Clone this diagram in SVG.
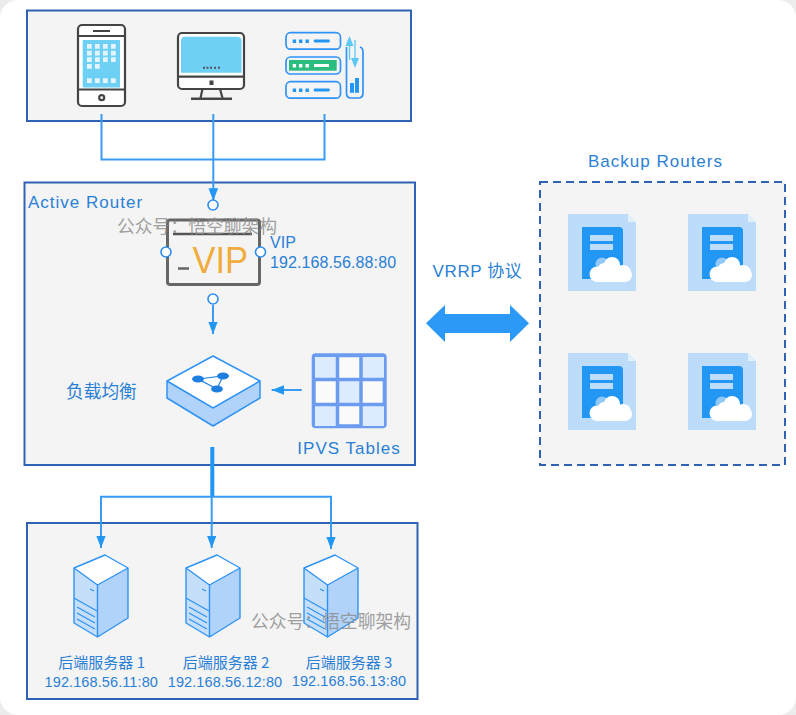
<svg xmlns="http://www.w3.org/2000/svg" xmlns:xlink="http://www.w3.org/1999/xlink" width="796" height="715" viewBox="0 0 796 715">
<style>
.box{fill:#f4f4f4;stroke:#2f62b5;stroke-width:2}
.dash{stroke-dasharray:8 5}
.t{font-family:"Noto Sans CJK SC","Liberation Sans",sans-serif;fill:#2a7fd6;font-size:17.7px}
.h{font-family:"Liberation Sans","Noto Sans CJK SC",sans-serif;fill:#2a7fd6;font-size:17px;letter-spacing:1px}
.l{font-family:"Liberation Sans",sans-serif;fill:#2a7fd6;font-size:16px;letter-spacing:.1px}
.ip{font-size:14.500px}
.sn{font-family:"Noto Sans CJK SC","Liberation Sans",sans-serif;fill:#2a7fd6;font-size:15px}
.c{text-anchor:middle}
.wm{font-family:"Noto Sans CJK SC",sans-serif;font-size:17.800px;fill:#8c8c8c;opacity:.8}
.ln{fill:none;stroke:#3a9bf5;stroke-width:2}
.dev{fill:none;stroke:#444;stroke-width:2.200}
.port{fill:#fff;stroke:#2b8ef0;stroke-width:1.600}
.sv{fill:none;stroke:#2f93f5;stroke-width:1.700}
</style>
<defs>
<marker id="arr" markerUnits="userSpaceOnUse" markerWidth="13" markerHeight="12" refX="12.500" refY="6" orient="auto"><path d="M0 1.200L12.500 6L0 10.800Z" fill="#2196f3"/></marker>
<g id="server">
<path d="M0 13L31 0L54 13L23.500 30Z" fill="#fff"/>
<path d="M0 13L23.500 30V82L0 68Z" fill="#c5dffb"/>
<path d="M23.500 30L54 13V63L23.500 82Z" fill="#b1d3fa"/>
<path d="M0 13L31 0L54 13L23.500 30ZM0 13V68L23.500 82L54 63V13M23.500 30V82" fill="none" stroke="#2f93f5" stroke-width="1.400" stroke-linejoin="round"/>
<path d="M0 43L23 56M3 52L21 62M3 58L21 68M3 64L21 74M16 34L20 36" fill="none" stroke="#2f93f5" stroke-width="1.300"/>
</g>
<g id="doc">
<path d="M0 0H60L68 8V77H0Z" fill="#bcdcfa"/>
<path d="M60 0L68 8H60Z" fill="#e2f0fc"/>
<path d="M14 13H51Q55 13 55 17V65H14Z" fill="#2196f3"/>
<rect x="22" y="21" width="23" height="6" fill="#bcdcfa"/>
<rect x="22" y="30" width="23" height="6" fill="#bcdcfa"/>
<circle cx="34" cy="50" r="6.500" fill="#90c8f8"/>
<rect x="22" y="54" width="42" height="14" rx="7" fill="#fff"/>
<circle cx="29" cy="60" r="7.500" fill="#fff"/>
<circle cx="44" cy="51" r="8" fill="#fff"/>
<circle cx="36" cy="55" r="6" fill="#fff"/>
<circle cx="55" cy="59" r="8" fill="#fff"/>
</g>
</defs>
<rect width="796" height="715" fill="#ececec"/>
<rect width="796" height="715" rx="18" fill="#fff"/>
<g id="clients">
<rect class="box" x="27" y="10.500" width="384" height="110.500"/>
<g id="phone">
<rect x="78" y="25" width="47" height="81" rx="4" fill="#fff" stroke="#444" stroke-width="2.200"/>
<rect x="82.700" y="40" width="37.300" height="47.500" fill="#6fd0f5"/>
<path class="dev" d="M78 36H125M78 89.500H125M93 31H110"/>
<circle cx="101.700" cy="97.700" r="2.500" class="dev"/>
<path d="M87 44h4.700v4.700h-4.700zM95 44h4.700v4.700h-4.700zM103 44h4.700v4.700h-4.700zM111 44h4.700v4.700h-4.700zM87 50.700h4.700v4.700h-4.700zM95 50.700h4.700v4.700h-4.700zM103 50.700h4.700v4.700h-4.700zM111 50.700h4.700v4.700h-4.700zM87 57.300h4.700v4.700h-4.700zM95 57.300h4.700v4.700h-4.700zM103 57.300h4.700v4.700h-4.700zM111 57.300h4.700v4.700h-4.700zM87 64h4.700v4.700h-4.700zM95 64h4.700v4.700h-4.700zM87 78.300h4.700v4.700h-4.700zM95 78.300h4.700v4.700h-4.700zM103 78.300h4.700v4.700h-4.700zM111 78.300h4.700v4.700h-4.700z" fill="#e6f5fc"/>
</g>
<g id="monitor">
<rect x="178" y="33" width="66" height="56" rx="4" fill="#fff" stroke="#444" stroke-width="2.200"/>
<path d="M181 41Q181 36.700 185 36.700H237Q241.500 36.700 241.500 41V72.700H181Z" fill="#6fd0f5"/>
<path class="dev" d="M178 76.700H244M202.500 89L200.500 98M220 89L222.500 98"/>
<path d="M191 98.700H232" stroke="#444" stroke-width="2.500"/>
<rect x="209.500" y="80.500" width="4" height="4.500" fill="#444"/>
<path d="M203 66.700h2v2h-2zM206.500 66.700h2v2h-2zM210 66.700h2v2h-2zM214 66.700h2v2h-2zM218 66.700h2v2h-2z" fill="#555"/>
</g>
<g id="servers">
<rect x="286" y="32.700" width="54.500" height="16.500" rx="4.500" class="sv"/>
<rect x="286" y="57" width="54.500" height="17" rx="4.500" class="sv"/>
<rect x="289" y="60" width="47.700" height="10.700" fill="#2bbd7e"/>
<rect x="286" y="81.700" width="54.500" height="16.500" rx="4.500" class="sv"/>
<path d="M292.700 39.500h3.400v3.400h-3.400zM299 39.500h3.400v3.400h-3.400zM305.500 39.500h3.400v3.400h-3.400zM292.700 88.500h3.400v3.400h-3.400zM299 88.500h3.400v3.400h-3.400zM305.500 88.500h3.400v3.400h-3.400z" fill="#2196f3"/>
<path d="M292.700 64h3.400v3.400h-3.400zM299 64h3.400v3.400h-3.400zM305.500 64h3.400v3.400h-3.400zM314 64h15v3h-15z" fill="#fff"/>
<path d="M315 41H328.500M315 90H328.500" stroke="#2196f3" stroke-width="2.800" stroke-linecap="round"/>
<path d="M346.500 47V93Q346.500 98 351 98H358Q363 98 363 93V52Q363 48 360 47" class="sv"/>
<path d="M349.500 44V60M355 40V62" fill="none" stroke="#5cc8f2" stroke-width="1.300"/>
<path d="M349.500 36L345.500 46H353.500ZM355 68L351 58H359Z" fill="#5cc8f2"/>
<path d="M350 83h4v9.700h-4zM355 78h4v14.700h-4z" fill="#2196f3"/>
</g>
</g>
<g id="active-router">
<rect class="box" x="24.500" y="182.500" width="390.500" height="282.500"/>
<text class="h" x="28" y="208">Active Router</text>
</g>
<g id="backup-routers">
<rect class="box dash" x="540" y="182" width="245" height="283"/>
<text class="h c" x="655.500" y="167">Backup Routers</text>
<use id="backup-1" xlink:href="#doc" href="#doc" x="568" y="214"/>
<use id="backup-2" xlink:href="#doc" href="#doc" x="688" y="214"/>
<use id="backup-3" xlink:href="#doc" href="#doc" x="568" y="353"/>
<use id="backup-4" xlink:href="#doc" href="#doc" x="688" y="353"/>
</g>
<g id="backends">
<rect class="box" x="27" y="523" width="390.500" height="176"/>
</g>
<g id="connectors">
<path class="ln" d="M101.500 114V159.500H324.500V114"/>
<path class="ln" d="M213.300 114V200.700" marker-end="url(#arr)"/>
<path class="ln" d="M213 305V334" marker-end="url(#arr)"/>
<path class="ln" d="M301.700 390H271.700" marker-end="url(#arr)"/>
<path d="M212.300 447V497" fill="none" stroke="#2196f3" stroke-width="4"/>
<path class="ln" d="M101 548V496.700H331V549" marker-end="url(#arr)"/>
<path class="ln" d="M101 496.700V548" marker-end="url(#arr)"/>
<path class="ln" d="M211.700 496.700V548" marker-end="url(#arr)"/>
<path id="vrrp" d="M426 323.300L445 305V314H510V305L529 323.300L510 342V333H445V342Z" fill="#2b99f5"/>
</g>
<g id="vip">
<rect x="167.500" y="220" width="92" height="64.500" rx="2.500" fill="#f4f4f4" stroke="#666" stroke-width="3"/>
<path d="M173 234H252" stroke="#555" stroke-width="2.500"/>
<path d="M178 268.500H189" stroke="#666" stroke-width="2.500"/>
<text x="192.500" y="272.700" font-family="Liberation Sans,sans-serif" font-size="37" fill="#f0ac3c" textLength="55.500" lengthAdjust="spacingAndGlyphs">VIP</text>
<circle class="port" cx="213" cy="205" r="5"/>
<circle class="port" cx="166" cy="252" r="5"/>
<circle class="port" cx="260.500" cy="252" r="5"/>
<circle class="port" cx="213" cy="299" r="5"/>
<text class="l" x="270" y="248">VIP</text>
<text class="l" x="270" y="268">192.168.56.88:80</text>
</g>
<g id="load-balancer">
<path d="M167 381V398L213 426L260 398V381L213 409Z" fill="#b1d3fa"/>
<path d="M167 381L213 356L260 381L213 408Z" fill="#fff"/>
<path d="M167 381L213 356L260 381V398L213 426L167 398ZM167 381L213 408L260 381" fill="none" stroke="#2f93f5" stroke-width="1.500" stroke-linejoin="round"/>
<path d="M198 379L223 376L217 389Z" fill="none" stroke="#1f7fe0" stroke-width="1.200"/>
<ellipse cx="198" cy="379" rx="6" ry="3.500" fill="#1f7fe0"/>
<ellipse cx="223" cy="376" rx="6" ry="3.500" fill="#1f7fe0"/>
<ellipse cx="217" cy="389" rx="6" ry="3.500" fill="#1f7fe0"/>
<text class="t" x="66" y="398">负载均衡</text>
</g>
<g id="ipvs">
<rect x="313.700" y="355.300" width="71" height="71" rx="2" fill="#fbfbfb" stroke="#6b9cf0" stroke-width="4"/>
<path d="M315 357h22v22h-22zM362 357h22v22h-22zM338 380h24v24h-24zM315 405h22v21h-22zM362 405h22v21h-22z" fill="#dcebfd"/>
<path d="M337.500 355V427M361 355V427M313 379.500H385M313 404.500H385" stroke="#6b9cf0" stroke-width="3.500"/>
<text class="h c" x="349" y="454">IPVS Tables</text>
</g>
<text class="h c" x="477.500" y="277" style="letter-spacing:.6px">VRRP 协议</text>
<g id="backend-1">
<use xlink:href="#server" href="#server" x="74" y="555"/>
<text class="sn c" x="101.700" y="668">后端服务器 1</text>
<text class="l ip c" x="101.300" y="686.700">192.168.56.11:80</text>
</g>
<g id="backend-2">
<use xlink:href="#server" href="#server" x="186" y="555"/>
<text class="sn c" x="226" y="668">后端服务器 2</text>
<text class="l ip c" x="225" y="686.700">192.168.56.12:80</text>
</g>
<g id="backend-3">
<use xlink:href="#server" href="#server" x="304" y="555"/>
<text class="sn c" x="349" y="667.700">后端服务器 3</text>
<text class="l ip c" x="349" y="685.700">192.168.56.13:80</text>
</g>
<text class="wm" x="117" y="233">公众号：悟空聊架构</text>
<text class="wm" x="251" y="628">公众号：悟空聊架构</text>
</svg>
